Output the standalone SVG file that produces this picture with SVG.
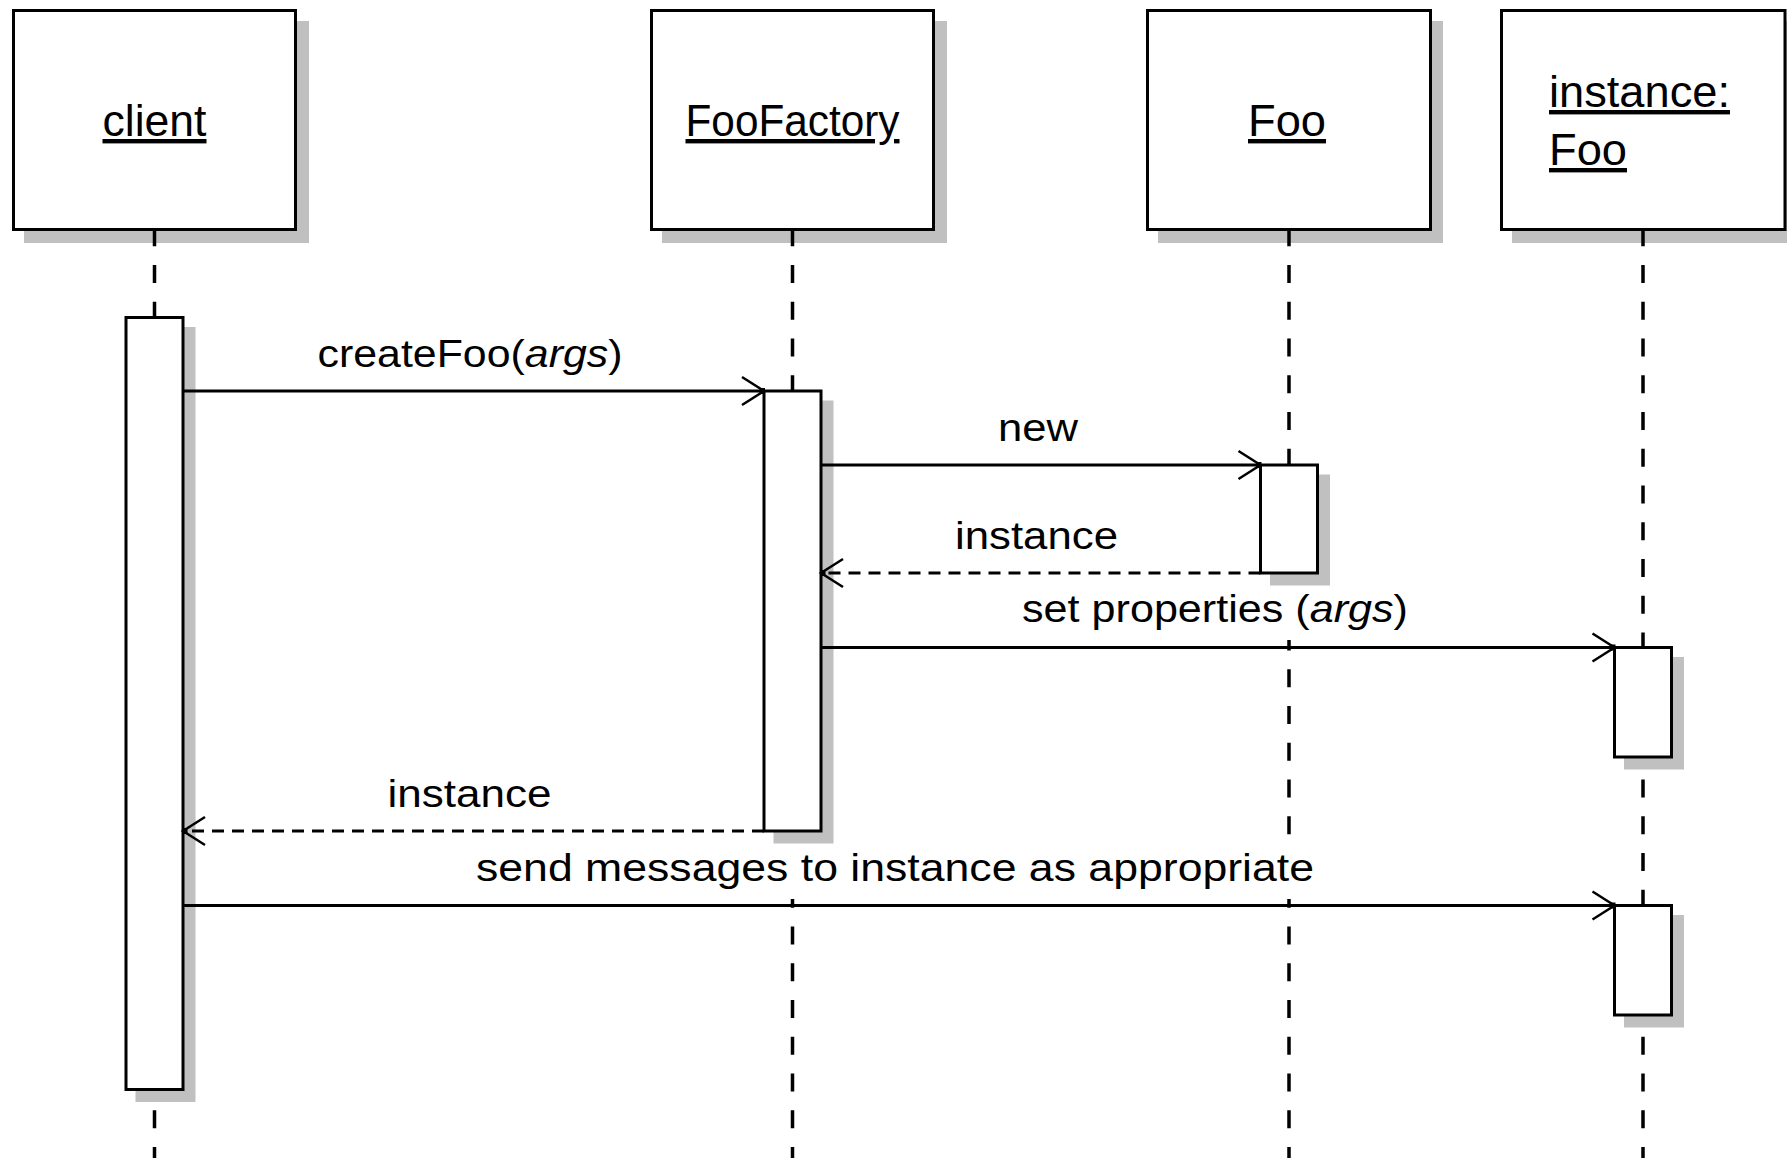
<svg xmlns="http://www.w3.org/2000/svg" width="1787" height="1158" viewBox="0 0 1787 1158">
<style>
  .box{fill:#fff;stroke:#000;stroke-width:3}
  .act{fill:#fff;stroke:#000;stroke-width:3}
  .shadow{fill:#c0c0c0;stroke:none}
  .life{stroke:#000;stroke-width:3.5;stroke-dasharray:18 18.75;fill:none}
  .msg{stroke:#000;stroke-width:3;fill:none;marker-end:url(#open)}
  .ret{stroke-dasharray:12 8}
  .lblbg{fill:#fff;stroke:none}
  .lbl{font-family:"Liberation Sans",Arial,sans-serif;font-size:44px;text-decoration:underline;fill:#000}
  .mlbl{font-family:"Liberation Sans",Arial,sans-serif;font-size:38px;fill:#000;text-anchor:middle}
</style>
<defs>
  <marker id="open" markerUnits="userSpaceOnUse" markerWidth="32" markerHeight="34" refX="24" refY="16" orient="auto">
    <path d="M2 2 L24 16 L2 30" fill="none" stroke="#000" stroke-width="2.5"/>
    <rect x="19.5" y="13" width="5.5" height="6" fill="#000"/>
  </marker>
</defs>
<rect width="1787" height="1158" fill="#fff"/>

<g id="client">
  <rect class="shadow" x="24" y="21" width="285" height="222"/>
  <rect class="box" x="13.5" y="10.5" width="282" height="219"/>
  <text class="lbl" x="154.5" y="136" text-anchor="middle" textLength="104" lengthAdjust="spacingAndGlyphs">client</text>
  <line class="life" x1="154.5" y1="228.25" x2="154.5" y2="1158"/>
  <g id="client-activation">
    <rect class="shadow" x="135.5" y="327" width="60" height="775"/>
    <rect class="act" x="126" y="317.5" width="57" height="772"/>
  </g>
</g>

<g id="FooFactory">
  <rect class="shadow" x="662" y="21" width="285" height="222"/>
  <rect class="box" x="651.5" y="10.5" width="282" height="219"/>
  <text class="lbl" x="792.5" y="136" text-anchor="middle" textLength="214" lengthAdjust="spacingAndGlyphs">FooFactory</text>
  <line class="life" x1="792.5" y1="228.25" x2="792.5" y2="1158"/>
  <g id="FooFactory-activation">
    <rect class="shadow" x="773.5" y="400.5" width="60" height="443"/>
    <rect class="act" x="764" y="391" width="57" height="440"/>
  </g>
</g>

<g id="Foo">
  <rect class="shadow" x="1158" y="21" width="285" height="222"/>
  <rect class="box" x="1147.5" y="10.5" width="283" height="219"/>
  <text class="lbl" x="1287" y="136" text-anchor="middle" textLength="78" lengthAdjust="spacingAndGlyphs">Foo</text>
  <line class="life" x1="1289" y1="228.25" x2="1289" y2="1158"/>
  <g id="Foo-activation">
    <rect class="shadow" x="1270" y="474.5" width="60" height="111"/>
    <rect class="act" x="1260.5" y="465" width="57" height="108"/>
  </g>
</g>

<g id="instance-Foo">
  <rect class="shadow" x="1512" y="21" width="285" height="222"/>
  <rect class="box" x="1501.5" y="10.5" width="283.5" height="219"/>
  <text class="lbl" x="1549" y="107" textLength="181" lengthAdjust="spacingAndGlyphs">instance:</text>
  <text class="lbl" x="1549" y="165" textLength="78" lengthAdjust="spacingAndGlyphs">Foo</text>
  <line class="life" x1="1643" y1="228.25" x2="1643" y2="1158"/>
  <g id="instance-activation-1">
    <rect class="shadow" x="1624" y="657" width="60" height="112.5"/>
    <rect class="act" x="1614.5" y="647.5" width="57" height="109.5"/>
  </g>
  <g id="instance-activation-2">
    <rect class="shadow" x="1624" y="915" width="60" height="112.5"/>
    <rect class="act" x="1614.5" y="905.5" width="57" height="109.5"/>
  </g>
</g>

<g id="connectors">
  <line class="msg" x1="183" y1="391" x2="764" y2="391"/>
  <rect class="lblbg" x="312" y="331" width="316" height="54"/>
  <text class="mlbl" x="470" y="367" textLength="305" lengthAdjust="spacingAndGlyphs">createFoo(<tspan font-style="italic">args</tspan>)</text>

  <line class="msg" x1="821" y1="465" x2="1260.5" y2="465"/>
  <rect class="lblbg" x="993" y="404.5" width="90" height="54"/>
  <text class="mlbl" x="1038" y="440.5" textLength="80" lengthAdjust="spacingAndGlyphs">new</text>

  <line class="msg ret" x1="1260.5" y1="573" x2="821" y2="573"/>
  <rect class="lblbg" x="950" y="512.5" width="173" height="54"/>
  <text class="mlbl" x="1036.5" y="548.5" textLength="163" lengthAdjust="spacingAndGlyphs">instance</text>

  <line class="msg" x1="821" y1="647.5" x2="1614.5" y2="647.5"/>
  <rect class="lblbg" x="1016" y="586" width="398" height="54"/>
  <text class="mlbl" x="1215" y="622" textLength="386" lengthAdjust="spacingAndGlyphs">set properties (<tspan font-style="italic">args</tspan>)</text>

  <line class="msg ret" x1="764" y1="831" x2="183" y2="831"/>
  <rect class="lblbg" x="382" y="770.5" width="175" height="54"/>
  <text class="mlbl" x="469.5" y="806.5" textLength="164" lengthAdjust="spacingAndGlyphs">instance</text>

  <line class="msg" x1="183" y1="905.5" x2="1614.5" y2="905.5"/>
  <rect class="lblbg" x="470" y="845" width="850" height="54"/>
  <text class="mlbl" x="895" y="881" textLength="838" lengthAdjust="spacingAndGlyphs">send messages to instance as appropriate</text>
</g>
</svg>
